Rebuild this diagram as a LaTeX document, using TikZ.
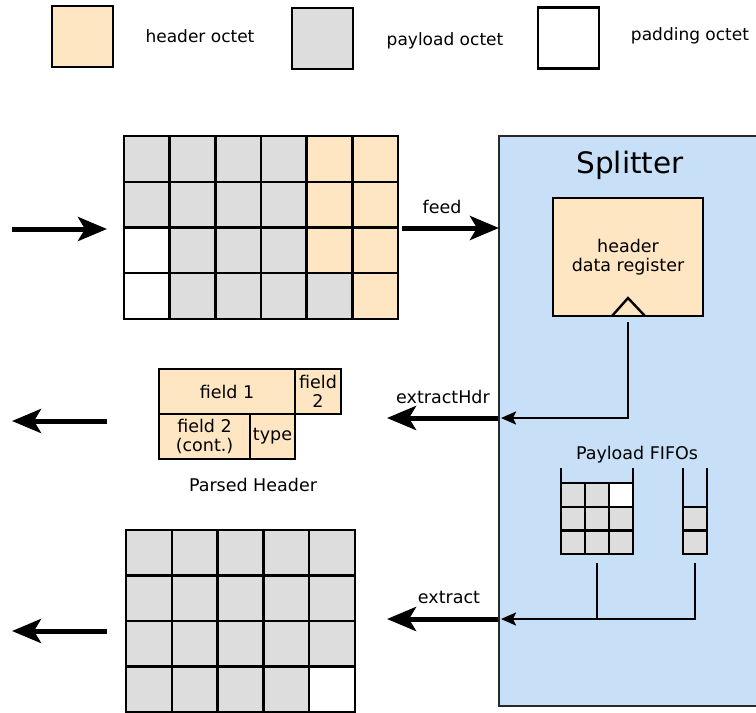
\documentclass[tikz,border=0pt]{standalone}
\usepackage{fontspec}
\setmainfont{DejaVu Sans}
\usetikzlibrary{arrows.meta}
\definecolor{hdr}{RGB}{255,230,194}
\definecolor{pay}{RGB}{221,221,221}
\definecolor{blk}{RGB}{199,224,248}
\definecolor{rim}{RGB}{40,40,40}

\begin{document}
\begin{tikzpicture}[x=1pt,y=-1pt,
  font=\fontsize{17.5}{19}\selectfont,
  oct/.style={draw=black,line width=2.4pt,inner sep=0pt,outer sep=0pt},
  legbox/.style={draw=black,line width=2.4pt,minimum width=61pt,minimum height=61pt,inner sep=0pt},
  fcell/.style={draw=black,line width=2.2pt,inner sep=0pt,outer sep=0pt},
  fld/.style={draw=black,line width=2.4pt,fill=hdr,inner sep=0pt,outer sep=0pt,align=center},
  bigarrow/.style={line width=5pt,-{Stealth[length=29pt,width=24pt,inset=7pt]}},
  smallarrow/.style={line width=2.2pt,-{Stealth[length=15pt,width=13pt,inset=3pt]}},
  wire/.style={line width=2.2pt},
  lbl/.style={inner sep=0pt},
  leglbl/.style={inner sep=0pt,font=\fontsize{17}{19}\selectfont},
]
\useasboundingbox (0,0) rectangle (756,713);
\clip (0,0) rectangle (756,713);

% legend
\node[legbox,fill=hdr]   (lh) at (82.5,36.5) {};
\node[leglbl] (lht) at (200,36) {header octet};
\node[legbox,fill=pay]   (lp) at (322.5,38.5) {};
\node[leglbl] (lpt) at (445,41) {payload octet};
\node[legbox,fill=white] (lw) at (568.5,38) {};
\node[leglbl] (lwt) at (690,36) {padding octet};

% splitter block (runs past the right edge)
\node[draw=rim,line width=2.4pt,fill=blk,minimum width=291pt,minimum height=570pt,
      inner sep=0pt,outer sep=0pt] (split) at (644.5,421) {};
\node[lbl,font=\fontsize{29.5}{34}\selectfont] (splitT) at (630,165) {Splitter};

% header data register
\node[draw=black,line width=2.4pt,fill=hdr,minimum width=150pt,minimum height=118pt,
      inner sep=0pt,outer sep=0pt,align=center,font=\fontsize{17.5}{19}\selectfont]
      (reg) at (628,257) {header\\data register};
\draw[line width=2.4pt,line join=miter]
  ([xshift=-16pt]reg.south) -- ([yshift=18pt]reg.south) -- ([xshift=17pt]reg.south);

% incoming packet
\foreach \r/\row in {1/{pay,pay,pay,pay,hdr,hdr},2/{pay,pay,pay,pay,hdr,hdr},
                     3/{white,pay,pay,pay,hdr,hdr},4/{white,pay,pay,pay,pay,hdr}}{
  \foreach \k [count=\c] in \row {
    \node[oct,fill=\k,minimum width=45.67pt,minimum height=45.75pt]
      (t-\r-\c) at ({124+(\c-0.5)*45.67},{136+(\r-0.5)*45.75}) {};
  }
}

% outgoing payload
\foreach \r/\row in {1/{pay,pay,pay,pay,pay},2/{pay,pay,pay,pay,pay},
                     3/{pay,pay,pay,pay,pay},4/{pay,pay,pay,pay,white}}{
  \foreach \k [count=\c] in \row {
    \node[oct,fill=\k,minimum width=45.8pt,minimum height=45.5pt]
      (b-\r-\c) at ({126+(\c-0.5)*45.8},{530+(\r-0.5)*45.5}) {};
  }
}

% parsed header fields
\node[fld,minimum width=136pt,minimum height=45pt] (f1)  at (227,391.5) {field 1};
\node[fld,minimum width=46pt,minimum height=45pt] (f2)  at (318,391.5) {field\\2};
\node[fld,minimum width=91pt,minimum height=45pt] (f2c) at (204.5,436.5) {field 2\\(cont.)};
\node[fld,minimum width=45pt,minimum height=45pt] (fty) at (272.5,436.5) {type};
\node[lbl] (phdr) at (253,485) {Parsed Header};

% payload FIFOs
\node[lbl] (fifoT) at (637,455) {Payload FIFOs};
\draw[wire] (561,468) -- (561,554) (633,468) -- (633,554);
\draw[wire] (683,468) -- (683,554) (707,468) -- (707,554);
\foreach \r/\row in {1/{pay,pay,white},2/{pay,pay,pay},3/{pay,pay,pay}}{
  \foreach \k [count=\c] in \row {
    \node[fcell,fill=\k,minimum width=24pt,minimum height=23.7pt]
      (qa-\r-\c) at ({561+(\c-0.5)*24},{483+(\r-0.5)*23.7}) {};
  }
}
\foreach \r in {1,2}{
  \node[fcell,fill=pay,minimum width=24pt,minimum height=23.5pt]
    (qb-\r) at (695,{507+(\r-0.5)*23.5}) {};
}
\node[inner sep=0pt,outer sep=0pt,minimum width=72pt,minimum height=71pt] (fifoA) at (597,518.5) {};
\node[inner sep=0pt,outer sep=0pt,minimum width=24pt,minimum height=47pt] (fifoB) at (695,530.5) {};

% internal wiring
\coordinate (hdrIn) at (501,418);
\coordinate (payIn) at (501,619);
\draw[smallarrow] ([yshift=-6pt]reg.south) |- (hdrIn);
\draw[wire] ([yshift=-9pt]fifoA.south) -- (fifoA.south |- payIn);
\draw[smallarrow] ([yshift=-9pt]fifoB.south) |- (payIn);

% external ports
\coordinate (inS) at (12,229);   \coordinate (inE) at (107,229);
\coordinate (feedS) at (402,228);
\coordinate (hdrS) at (498,418); \coordinate (hdrE) at (387,418);
\coordinate (phS) at (107,421);  \coordinate (phE) at (12,421);
\coordinate (exS) at (498,619);  \coordinate (exE) at (387,619);
\coordinate (poS) at (107,631);  \coordinate (poE) at (12,631);

\draw[bigarrow] (inS) -- (inE);
\draw[bigarrow] (feedS) -- (split.west |- feedS);
\draw[bigarrow] (hdrS) -- (hdrE);
\draw[bigarrow] (phS) -- (phE);
\draw[bigarrow] (exS) -- (exE);
\draw[bigarrow] (poS) -- (poE);

\node[lbl] (feedL) at (442,207) {feed};
\node[lbl] (hdrL)  at (443,397) {extractHdr};
\node[lbl] (exL)   at (449,597) {extract};
\end{tikzpicture}
\end{document}
